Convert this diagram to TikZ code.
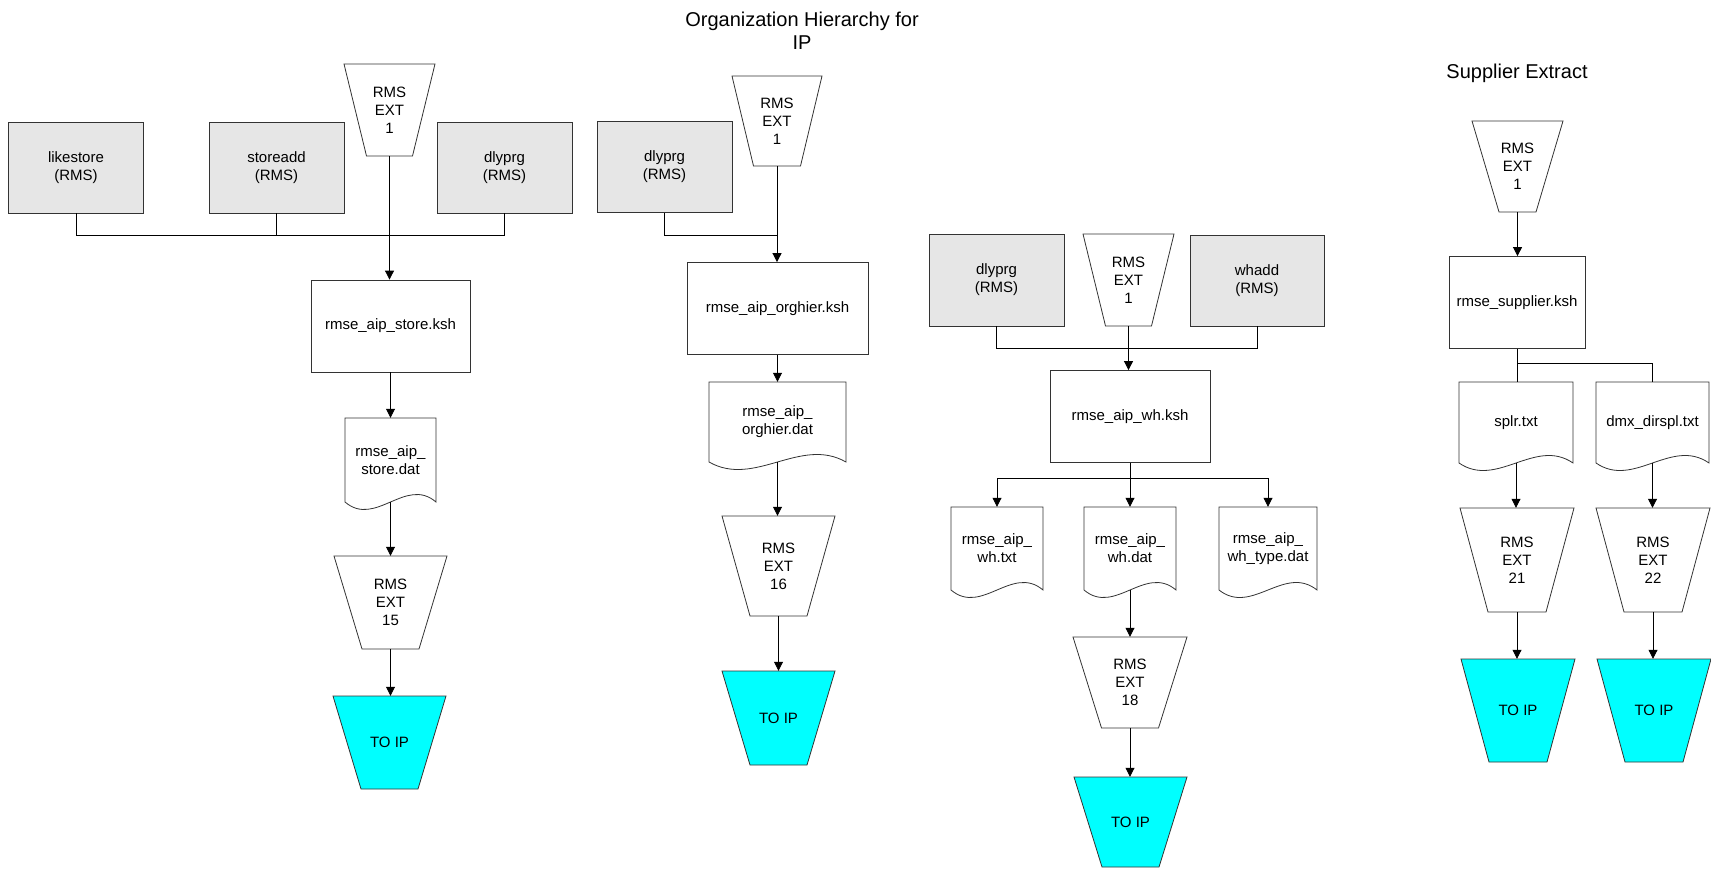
\documentclass[tikz,border=0pt]{standalone}
\usepackage{fontspec}
\setmainfont{Liberation Sans}
\usetikzlibrary{arrows.meta}
\definecolor{boxgray}{HTML}{E6E6E6}
\definecolor{toip}{HTML}{00FFFF}
\definecolor{edge}{HTML}{333333}
% trapezoid (extract) shape: name, cx, ytop, top width, bottom width, height, fill, text
\newcommand{\extnode}[8]{%
  \filldraw[shp, fill=#7] ({#2-#4/2},#3) -- ({#2+#4/2},#3) -- ({#2+#5/2},{#3+#6}) -- ({#2-#5/2},{#3+#6}) -- cycle;
  \node[lbl, minimum width=#4pt, minimum height=#6pt] (#1) at (#2,{#3+#6/2}) {#8};
}
% document shape: name, x1, x2, ytop, ybottom(sides), text
\newcommand{\docnode}[6]{%
  \filldraw[shp, fill=white] (#2,#4) -- (#3,#4) -- (#3,#5) .. controls ({#3-(#3-#2)/3},{#5-26}) and ({#3-2*(#3-#2)/3},{#5+26}) .. (#2,#5) -- cycle;
  \node[lbl, minimum width={(#3-#2)*1pt}, minimum height={(#5-#4)*1pt}] (#1) at ({(#2+#3)/2},{(#4+#5)/2}) {#6};
}
\begin{document}
\begin{tikzpicture}[x=1pt,y=-1pt,
  shp/.style={draw=edge, line width=0.8pt, line join=miter},
  lbl/.style={inner sep=0pt, align=center, font=\fontsize{15}{18}\selectfont},
  src/.style={shp, lbl, fill=boxgray, minimum width=135pt, minimum height=91pt},
  prog/.style={shp, lbl, fill=white, minimum height=92pt},
  link/.style={draw=black, line width=0.8pt},
  arr/.style={link, -{Triangle[width=9pt,length=9pt]}},
  ttl/.style={inner sep=0pt, align=center, font=\fontsize{20}{23}\selectfont}]
\useasboundingbox (0,0) rectangle (1711,869);

% titles
\node[ttl] (t1) at (802,31) {Organization Hierarchy for\\IP};
\node[ttl] (t2) at (1517,73) {Supplier Extract};

% ---------- group 1: store ----------
\node[src] (like) at (76,167.5) {likestore\\(RMS)};
\node[src] (stadd) at (276.5,167.5) {storeadd\\(RMS)};
\node[src] (dly1) at (504.5,167.5) {dlyprg\\(RMS)};
\extnode{ext1a}{389.5}{64}{91}{46}{92}{white}{RMS\\EXT\\1}
\node[prog, minimum width=159pt] (ksh1) at (390.5,326) {rmse\_aip\_store.ksh};
\docnode{dat1}{345}{436}{418}{502}{rmse\_aip\_\\store.dat}
\extnode{ext15}{390.5}{556}{113}{57}{93}{white}{RMS\\EXT\\15}
\extnode{ip1}{389.5}{696}{113}{57}{93}{toip}{TO IP}
\coordinate (bus1) at (0,235);
\draw[link] (like.south) -- (like.south |- bus1) -- (dly1.south |- bus1) -- (dly1.south);
\draw[link] (stadd.south) -- (stadd.south |- bus1);
\draw[arr] (ext1a.south) -- (ext1a.south |- ksh1.north);
\draw[arr] (ksh1.south) -- (ksh1.south |- dat1.north);
\draw[arr] (dat1.south) -- (dat1.south |- ext15.north);
\draw[arr] (ext15.south) -- (ext15.south |- ip1.north);

% ---------- group 2: org hierarchy ----------
\node[src] (dly2) at (664.5,167) {dlyprg\\(RMS)};
\extnode{ext1b}{777}{76}{90}{47}{90}{white}{RMS\\EXT\\1}
\node[prog, minimum width=181pt] (ksh2) at (777.5,308.5) {rmse\_aip\_orghier.ksh};
\docnode{dat2}{709}{846}{382}{462}{rmse\_aip\_\\orghier.dat}
\extnode{ext16}{778.5}{516}{113}{57}{100}{white}{RMS\\EXT\\16}
\extnode{ip2}{778.5}{671}{113}{57}{94}{toip}{TO IP}
\coordinate (bus2) at (0,235);
\draw[link] (dly2.south) -- (dly2.south |- bus2) -- (ext1b.south |- bus2);
\draw[arr] (ext1b.south) -- (ext1b.south |- ksh2.north);
\draw[arr] (ksh2.south) -- (ksh2.south |- dat2.north);
\draw[arr] (dat2.south) -- (dat2.south |- ext16.north);
\draw[arr] (ext16.south) -- (ext16.south |- ip2.north);

% ---------- group 3: warehouse ----------
\node[src, minimum height=92pt] (dly3) at (996.5,280) {dlyprg\\(RMS)};
\extnode{ext1c}{1128.5}{234}{91}{46}{92}{white}{RMS\\EXT\\1}
\node[src, minimum width=134pt] (whadd) at (1257,280.5) {whadd\\(RMS)};
\node[prog, minimum width=160pt] (ksh3) at (1130,416.5) {rmse\_aip\_wh.ksh};
\docnode{txt3}{951}{1043}{507}{590}{rmse\_aip\_\\wh.txt}
\docnode{dat3}{1084}{1176}{507}{590}{rmse\_aip\_\\wh.dat}
\docnode{typ3}{1219}{1317}{507}{590}{rmse\_aip\_\\wh\_type.dat}
\extnode{ext18}{1130}{637}{114}{57}{91}{white}{RMS\\EXT\\18}
\extnode{ip3}{1130.5}{777}{113}{57}{90}{toip}{TO IP}
\coordinate (bus3) at (0,348);
\coordinate (bus3b) at (0,478);
\draw[link] (dly3.south) -- (dly3.south |- bus3) -- (whadd.south |- bus3) -- (whadd.south);
\draw[arr] (ext1c.south) -- (ext1c.south |- ksh3.north);
\draw[arr] (ksh3.south) -- (ksh3.south |- bus3b) -| (txt3.north);
\draw[arr] (ksh3.south) -- (ksh3.south |- bus3b) -| (typ3.north);
\draw[arr] (ksh3.south) -- (ksh3.south |- dat3.north);
\draw[arr] (dat3.south) -- (dat3.south |- ext18.north);
\draw[arr] (ext18.south) -- (ext18.south |- ip3.north);

% ---------- group 4: supplier ----------
\extnode{ext1d}{1517.5}{121}{91}{37}{91}{white}{RMS\\EXT\\1}
\node[prog, minimum width=136pt] (ksh4) at (1517,302.5) {rmse\_supplier.ksh};
\docnode{splr}{1459}{1573}{382}{463}{splr.txt}
\docnode{dmx}{1596}{1709}{382}{463}{dmx\_dirspl.txt}
\extnode{ext21}{1517}{508}{114}{58}{104}{white}{RMS\\EXT\\21}
\extnode{ext22}{1653}{508}{114}{58}{104}{white}{RMS\\EXT\\22}
\extnode{ip21}{1518}{659}{114}{58}{103}{toip}{TO IP}
\extnode{ip22}{1654}{659}{114}{58}{103}{toip}{TO IP}
\coordinate (bus4) at (0,363);
\draw[arr] (ext1d.south) -- (ext1d.south |- ksh4.north);
\draw[link] (ksh4.south) -- (ksh4.south |- splr.north);
\draw[link] (ksh4.south |- bus4) -| (dmx.north);
\draw[arr] (splr.south) -- (splr.south |- ext21.north);
\draw[arr] (dmx.south) -- (dmx.south |- ext22.north);
\draw[arr] (ext21.south) -- (ext21.south |- ip21.north);
\draw[arr] (ext22.south) -- (ext22.south |- ip22.north);
\end{tikzpicture}
\end{document}
